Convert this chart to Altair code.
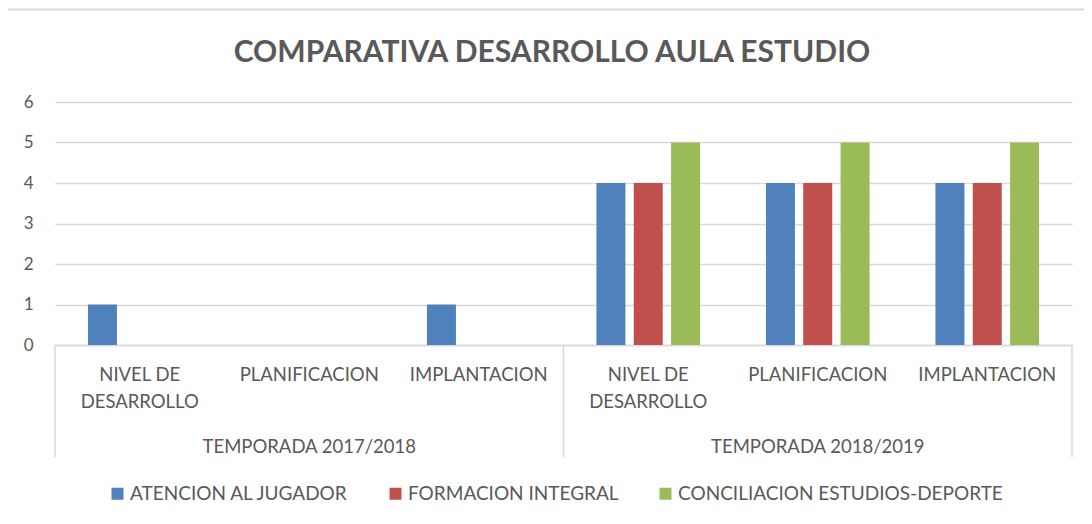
import altair as alt
import pandas as pd

# ---- data -------------------------------------------------------------
title_text = "COMPARATIVA DESARROLLO AULA ESTUDIO"
seasons = ["TEMPORADA 2017/2018", "TEMPORADA 2018/2019"]
categories = ["NIVEL DE\nDESARROLLO", "PLANIFICACION", "IMPLANTACION"]
series = ["ATENCION AL JUGADOR", "FORMACION INTEGRAL", "CONCILIACION ESTUDIOS-DEPORTE"]
colors = ["#4F81BD", "#C0504D", "#9BBB59"]
atencion = [1, 0, 1, 4, 4, 4]
formacion = [0, 0, 0, 4, 4, 4]
conciliacion = [0, 0, 0, 5, 5, 5]
y_ticks = [0, 1, 2, 3, 4, 5, 6]

FONT = "Lato"
TXT = "#595959"
GRID = "#D9D9D9"
W, H = 1017, 243
FS = 18.5

keys = [f"{s} | {c}" for s in seasons for c in categories]
labels = [c for s in seasons for c in categories]

rows = []
for name, vals in zip(series, [atencion, formacion, conciliacion]):
    for k, v in zip(keys, vals):
        rows.append({"key": k, "serie": name, "valor": v})
bars_df = pd.DataFrame(rows)

lab_df = pd.DataFrame({"key": keys, "label": labels})
grp_df = pd.DataFrame({"key": [keys[1], keys[4]], "label": seasons})
start_df = pd.DataFrame({"key": [keys[0], keys[3]]})
end_df = pd.DataFrame({"key": [keys[-1]]})
title_df = pd.DataFrame({"t": [title_text]})
one_df = pd.DataFrame({"a": [0]})

xscale = alt.Scale(domain=keys, paddingInner=0, paddingOuter=0)

bars = alt.Chart(bars_df).mark_bar().encode(
    x=alt.X("key:N", scale=xscale, title=None, sort=keys),
    xOffset=alt.XOffset("serie:N", scale=alt.Scale(domain=series, paddingInner=0.223, paddingOuter=0.883)),
    y=alt.Y("valor:Q", scale=alt.Scale(domain=[0, 6], nice=False), title=None,
            axis=alt.Axis(values=y_ticks, format="d")),
    color=alt.Color("serie:N", scale=alt.Scale(domain=series, range=colors),
                    legend=alt.Legend(orient="none", legendX=53, legendY=382, direction="horizontal",
                                      title=None, symbolType="square", symbolSize=144,
                                      symbolStrokeWidth=0, labelFont=FONT, labelFontSize=19,
                                      labelColor=TXT, labelOffset=3, columnPadding=37,
                                      labelLimit=500)),
)

rule_start = alt.Chart(start_df).mark_rule(color=GRID, strokeWidth=1.5).encode(
    x=alt.X("key:N", scale=xscale, title=None, bandPosition=0),
    y=alt.value(H), y2=alt.value(355),
)
rule_end = alt.Chart(end_df).mark_rule(color=GRID, strokeWidth=1.5).encode(
    x=alt.X("key:N", scale=xscale, title=None, bandPosition=1),
    y=alt.value(H), y2=alt.value(355),
)

cat_labels = alt.Chart(lab_df).mark_text(
    font=FONT, fontSize=FS, color=TXT, baseline="alphabetic", align="center",
    lineBreak="\n", lineHeight=27,
).encode(
    x=alt.X("key:N", scale=xscale, title=None),
    y=alt.value(279),
    text="label:N",
)

grp_labels = alt.Chart(grp_df).mark_text(
    font=FONT, fontSize=FS, color=TXT, baseline="alphabetic", align="center",
).encode(
    x=alt.X("key:N", scale=xscale, title=None),
    y=alt.value(350.5),
    text="label:N",
)

title = alt.Chart(title_df).mark_text(
    font=FONT, fontSize=30, fontWeight="bold", color=TXT, baseline="alphabetic", align="center",
).encode(x=alt.value(497), y=alt.value(-40), text="t:N")

border_left = alt.Chart(one_df).mark_rule(color=GRID, strokeWidth=2).encode(
    x=alt.value(-49), y=alt.value(-92.5), y2=alt.value(420))
border_top = alt.Chart(one_df).mark_rule(color=GRID, strokeWidth=2).encode(
    x=alt.value(-49), x2=alt.value(1040), y=alt.value(-92.5))

chart = alt.layer(
    border_left, border_top, bars, rule_start, rule_end, cat_labels, grp_labels, title
).properties(
    width=W, height=H,
    autosize=alt.AutoSizeParams(type="none"),
    padding={"left": 47, "top": 94, "right": 12, "bottom": 165},
).configure_view(stroke=None).configure_axisX(
    labels=False, ticks=False, grid=False, domainColor=GRID, domainWidth=1.5,
).configure_axisY(
    grid=True, gridColor=GRID, gridWidth=1.5, domain=False, ticks=False,
    labelPadding=22, labelFont=FONT, labelFontSize=17, labelColor=TXT,
)

chart.save("out.html", embed_options={"renderer": "svg", "actions": False})
